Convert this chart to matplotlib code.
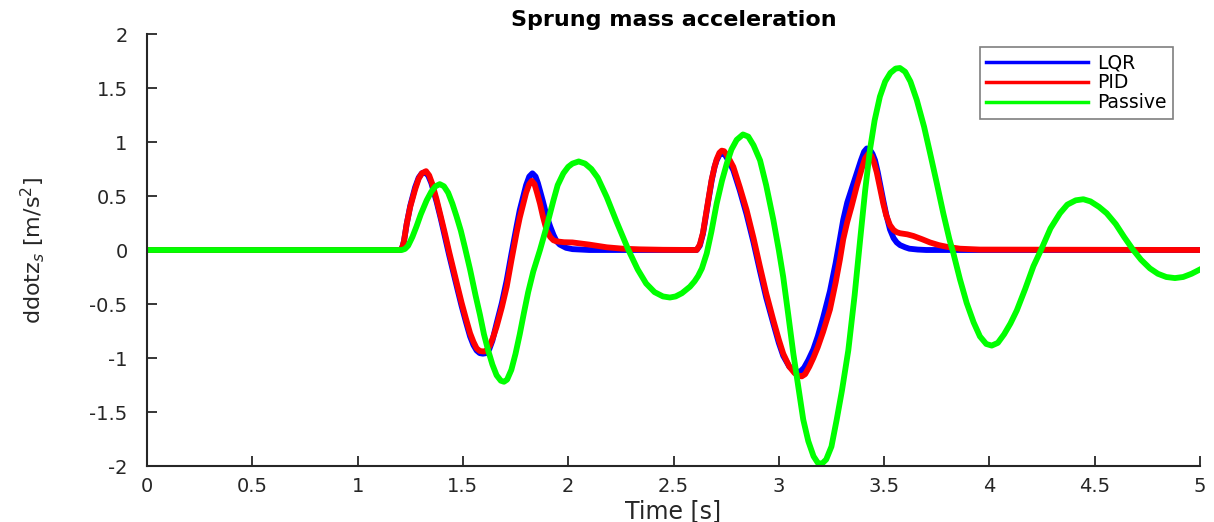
import matplotlib
matplotlib.use("Agg")
import matplotlib.pyplot as plt

# ---- data ----
t_lqr = [0, 1.20, 1.21, 1.22, 1.233, 1.25, 1.273, 1.29, 1.305, 1.32, 1.335, 1.35, 1.376, 1.395,
         1.415, 1.435, 1.455, 1.475, 1.494, 1.515, 1.534, 1.55, 1.565, 1.58, 1.595, 1.61, 1.625,
         1.64, 1.66, 1.685, 1.708, 1.73, 1.755, 1.77, 1.787, 1.80, 1.815, 1.83, 1.845, 1.856, 1.866,
         1.88, 1.897, 1.914, 1.93, 1.945, 1.96, 1.99, 2.02, 2.1,
         2.61, 2.625, 2.64, 2.65, 2.665, 2.681, 2.695, 2.705, 2.718, 2.732, 2.745, 2.76, 2.784,
         2.815, 2.847, 2.88, 2.91, 2.94, 2.974, 3.0, 3.021, 3.05, 3.075, 3.09, 3.105, 3.12, 3.14,
         3.164, 3.185, 3.21, 3.243, 3.27, 3.29, 3.306, 3.325, 3.345, 3.37, 3.39, 3.405, 3.418,
         3.432, 3.445, 3.457, 3.47, 3.483, 3.496, 3.51, 3.528, 3.545, 3.56, 3.576, 3.6, 3.62,
         3.66, 3.7, 5.0]
v_lqr = [0, 0, 0.01, 0.08, 0.24, 0.41, 0.58, 0.67, 0.71, 0.72, 0.69, 0.62, 0.44, 0.29,
         0.12, -0.05, -0.21, -0.37, -0.52, -0.67, -0.80, -0.88, -0.93, -0.955, -0.96, -0.955, -0.92,
         -0.84, -0.68, -0.49, -0.28, -0.04, 0.22, 0.37, 0.50, 0.60, 0.68, 0.71, 0.68, 0.62, 0.55,
         0.45, 0.32, 0.22, 0.14, 0.08, 0.05, 0.02, 0.008, 0,
         0, 0.04, 0.15, 0.27, 0.45, 0.64, 0.77, 0.83, 0.88, 0.90, 0.88, 0.83, 0.74,
         0.55, 0.33, 0.07, -0.19, -0.44, -0.68, -0.86, -0.98, -1.08, -1.12, -1.13, -1.12, -1.09, -1.02,
         -0.92, -0.80, -0.63, -0.38, -0.12, 0.10, 0.28, 0.44, 0.56, 0.71, 0.83, 0.91, 0.94,
         0.93, 0.89, 0.83, 0.72, 0.59, 0.46, 0.33, 0.19, 0.11, 0.07, 0.045, 0.025, 0.012,
         0.004, 0, 0]

t_pid = [0, 1.20, 1.21, 1.22, 1.233, 1.25, 1.273, 1.29, 1.305, 1.325, 1.34, 1.355, 1.376, 1.395,
         1.415, 1.435, 1.455, 1.475, 1.494, 1.515, 1.534, 1.55, 1.565, 1.58, 1.60, 1.615, 1.629,
         1.645, 1.66, 1.685, 1.708, 1.73, 1.755, 1.77, 1.787, 1.80, 1.815, 1.827, 1.84, 1.852, 1.866,
         1.88, 1.898, 1.915, 1.93, 1.945, 1.98, 2.02, 2.06, 2.1, 2.183, 2.26, 2.34, 2.45,
         2.61, 2.625, 2.64, 2.65, 2.665, 2.681, 2.695, 2.705, 2.718, 2.729, 2.74, 2.75, 2.765, 2.784,
         2.815, 2.847, 2.88, 2.91, 2.94, 2.974, 3.0, 3.021, 3.05, 3.075, 3.095, 3.109, 3.125, 3.145,
         3.164, 3.185, 3.21, 3.243, 3.27, 3.29, 3.306, 3.325, 3.345, 3.37, 3.395, 3.41, 3.425,
         3.44, 3.452, 3.465, 3.48, 3.496, 3.51, 3.528, 3.545, 3.56, 3.576, 3.61, 3.639, 3.68,
         3.718, 3.76, 3.797, 3.86, 3.955, 5.0]
v_pid = [0, 0, 0.01, 0.08, 0.24, 0.40, 0.56, 0.66, 0.71, 0.73, 0.69, 0.61, 0.46, 0.31,
         0.15, -0.02, -0.18, -0.34, -0.49, -0.64, -0.77, -0.85, -0.91, -0.935, -0.94, -0.925, -0.88,
         -0.80, -0.71, -0.53, -0.34, -0.10, 0.16, 0.30, 0.43, 0.53, 0.61, 0.64, 0.61, 0.53, 0.43,
         0.31, 0.18, 0.12, 0.09, 0.08, 0.072, 0.07, 0.06, 0.05, 0.025, 0.012, 0.006, 0.002,
         0, 0.05, 0.16, 0.28, 0.46, 0.65, 0.77, 0.84, 0.90, 0.92, 0.915, 0.89, 0.84, 0.77,
         0.58, 0.37, 0.11, -0.15, -0.40, -0.65, -0.83, -0.96, -1.08, -1.14, -1.165, -1.17, -1.15, -1.08,
         -1.00, -0.90, -0.76, -0.55, -0.30, -0.09, 0.10, 0.26, 0.40, 0.59, 0.76, 0.85, 0.89,
         0.87, 0.81, 0.72, 0.58, 0.43, 0.32, 0.23, 0.185, 0.165, 0.155, 0.145, 0.13, 0.10,
         0.07, 0.045, 0.03, 0.012, 0.004, 0]

t_pas = [0, 1.21, 1.225, 1.24, 1.26, 1.28, 1.30, 1.328, 1.35, 1.37, 1.39, 1.41, 1.43, 1.45,
         1.47, 1.49, 1.51, 1.534, 1.56, 1.581, 1.60, 1.62, 1.64, 1.66, 1.68, 1.695, 1.71, 1.73,
         1.75, 1.77, 1.79, 1.81, 1.834, 1.866, 1.898, 1.93, 1.95, 1.977, 2.0, 2.02, 2.05, 2.08,
         2.11, 2.14, 2.183, 2.23, 2.286, 2.33, 2.37, 2.41, 2.45, 2.483, 2.51, 2.54, 2.578, 2.60,
         2.617, 2.635, 2.658, 2.68, 2.705, 2.73, 2.753, 2.775, 2.80, 2.83, 2.855, 2.88, 2.911,
         2.94, 2.974, 3.0, 3.021, 3.045, 3.069, 3.095, 3.116, 3.14, 3.165, 3.185, 3.204, 3.225,
         3.25, 3.275, 3.30, 3.33, 3.36, 3.386, 3.41, 3.433, 3.455, 3.48, 3.505, 3.53, 3.555,
         3.575, 3.60, 3.625, 3.655, 3.69, 3.718, 3.75, 3.781, 3.81, 3.829, 3.86, 3.892, 3.925,
         3.955, 3.985, 4.011, 4.04, 4.07, 4.10, 4.13, 4.17, 4.209, 4.245, 4.29, 4.335, 4.37,
         4.41, 4.446, 4.48, 4.52, 4.557, 4.60, 4.64, 4.683, 4.72, 4.762, 4.80, 4.84, 4.881,
         4.92, 4.96, 5.0]
v_pas = [0, 0, 0.01, 0.04, 0.12, 0.22, 0.33, 0.46, 0.54, 0.59, 0.61, 0.59, 0.53, 0.43,
         0.31, 0.18, 0.02, -0.18, -0.42, -0.60, -0.78, -0.93, -1.06, -1.16, -1.21, -1.22, -1.20, -1.11,
         -0.96, -0.78, -0.58, -0.39, -0.20, 0.0, 0.22, 0.46, 0.60, 0.71, 0.77, 0.80, 0.82, 0.80,
         0.75, 0.67, 0.49, 0.26, 0.0, -0.18, -0.31, -0.39, -0.43, -0.44, -0.43, -0.40, -0.34, -0.29,
         -0.24, -0.17, -0.03, 0.17, 0.43, 0.64, 0.80, 0.93, 1.02, 1.07, 1.05, 0.97, 0.83,
         0.60, 0.28, 0.0, -0.25, -0.60, -0.96, -1.30, -1.57, -1.77, -1.91, -1.97, -1.98, -1.94,
         -1.82, -1.57, -1.30, -0.93, -0.42, 0.09, 0.55, 0.93, 1.20, 1.42, 1.56, 1.64, 1.68,
         1.685, 1.65, 1.56, 1.39, 1.14, 0.90, 0.62, 0.34, 0.10, -0.03, -0.27, -0.49, -0.67,
         -0.80, -0.87, -0.885, -0.86, -0.78, -0.68, -0.56, -0.36, -0.15, 0.0, 0.20, 0.34, 0.42,
         0.46, 0.47, 0.45, 0.40, 0.34, 0.24, 0.12, 0.0, -0.09, -0.17, -0.22, -0.25, -0.26,
         -0.25, -0.22, -0.18]

series_names = ["LQR", "PID", "Passive"]
x_ticks = [0, 0.5, 1, 1.5, 2, 2.5, 3, 3.5, 4, 4.5, 5]
y_ticks = [-2, -1.5, -1, -0.5, 0, 0.5, 1, 1.5, 2]

# ---- figure ----
plt.rcParams['font.family'] = ['DejaVu Sans']
fig = plt.figure(figsize=(12.14, 5.22), dpi=100)
ax = fig.add_axes([147/1214, 56/522, 1053/1214, 432/522])

lw = 4.2
ax.plot(t_lqr, v_lqr, color="#0000ff", lw=lw, label=series_names[0], solid_joinstyle="round")
ax.plot(t_pid, v_pid, color="#ff0000", lw=lw, label=series_names[1], solid_joinstyle="round")
ax.plot(t_pas, v_pas, color="#00ff00", lw=lw, label=series_names[2], solid_joinstyle="round")

ax.set_xlim(0, 5)
ax.set_ylim(-2, 2)
ax.set_xticks(x_ticks)
ax.set_xticklabels([f"{v:g}" for v in x_ticks])
ax.set_yticks(y_ticks)
ax.set_yticklabels([f"{v:g}" for v in y_ticks])

for s in ("top", "right"):
    ax.spines[s].set_visible(False)
for s in ("left", "bottom"):
    ax.spines[s].set_color("#262626")
    ax.spines[s].set_linewidth(1.5)
ax.tick_params(direction="in", length=7, width=1.3, colors="#262626",
               labelsize=14, labelcolor="#262626")
ax.tick_params(axis="y", pad=14)
ax.tick_params(axis="x", pad=8)

ax.set_xlabel("Time [s]", fontsize=17, color="#262626", labelpad=2)
ax.set_ylabel("ddotz$_{s}$ [m/s$^{2}$]", fontsize=16, color="#262626")
ax.yaxis.set_label_coords(-0.095, 0.5)
ax.set_title("Sprung mass acceleration", fontsize=16, fontweight="bold", pad=6)

leg = ax.legend(loc="upper right", bbox_to_anchor=(0.9744, 0.970), borderaxespad=0,
                fancybox=False, edgecolor="#7f7f7f", fontsize=13.5, handlelength=5.4,
                borderpad=0.35, labelspacing=0.05, handletextpad=0.5, framealpha=1)
for h in leg.get_lines():
    h.set_linewidth(2.5)
leg.get_frame().set_linewidth(1.2)

fig.savefig("out.png", dpi=100)
